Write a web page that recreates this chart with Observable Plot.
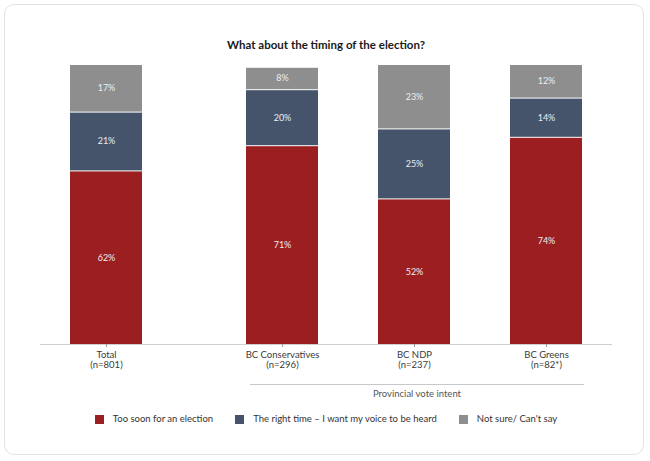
<!DOCTYPE html>
<html>
<head>
<meta charset="utf-8">
<script src="https://cdn.jsdelivr.net/npm/d3@7"></script>
<script src="https://cdn.jsdelivr.net/npm/@observablehq/plot@0.6"></script>
<style>
  html, body { margin: 0; padding: 0; background: #fff; }
  body { width: 650px; height: 461px; position: relative; overflow: hidden; font-family: Lato, "Open Sans", sans-serif; }
  #frame { position: absolute; left: 4px; top: 4px; width: 640px; height: 451px; border: 1px solid #e3e3e3; border-radius: 10px; box-sizing: border-box; }
  #title { position: absolute; left: 0; top: 37px; width: 652px; text-align: center; font-weight: 700; font-size: 11.5px; line-height: 15px; color: #1a1a1a; }
  #chart { position: absolute; left: 0; top: 0; }
  #group { position: absolute; border-top: 1px solid #c8c8c8; }
  #groupLabel { position: absolute; text-align: center; font-size: 9.5px; line-height: 12px; color: #555; }
  #legend { position: absolute; left: 0; top: 413px; width: 652px; display: flex; justify-content: center; font-size: 9.5px; line-height: 12px; color: #333; }
  .item { display: flex; align-items: center; margin: 0 11px; }
  .sw { width: 9px; height: 9px; margin-right: 9px; }
</style>
</head>
<body>
<div id="frame"></div>
<div id="title">What about the timing of the election?</div>
<div id="chart"></div>
<div id="group"></div>
<div id="groupLabel">Provincial vote intent</div>
<div id="legend"></div>
<script>
const categories = ["Total", "BC Conservatives", "BC NDP", "BC Greens"];
const sampleSizes = ["n=801", "n=296", "n=237", "n=82*"];
const seriesNames = ["Too soon for an election", "The right time – I want my voice to be heard", "Not sure/ Can't say"];
const tooSoon = [62, 71, 52, 74];
const rightTime = [21, 20, 25, 14];
const notSure = [17, 8, 23, 12];
const seriesColors = ["#9b1f21", "#45546b", "#8e8e8e"];
const groupName = "Provincial vote intent";
const groupMembers = ["BC Conservatives", "BC NDP", "BC Greens"];

const seriesValues = [tooSoon, rightTime, notSure];
const rows = [];
seriesNames.forEach((s, si) => {
  categories.forEach((c, ci) => rows.push({cat: c, series: s, value: seriesValues[si][ci]}));
});

// band slots: spacer slots widen the gap between Total and the party group
const slots = [];
categories.forEach((c, i) => {
  if (i > 0) {
    const n = i === 1 ? 3 : 2;
    for (let k = 0; k < n; k++) slots.push(`_gap${i}_${k}`);
  }
  slots.push(c);
});
const nLabel = new Map(categories.map((c, i) => [c, `${c}\n(${sampleSizes[i]})`]));

const chart = Plot.plot({
  width: 650,
  height: 400,
  marginTop: 64,
  marginBottom: 56,
  marginLeft: 40,
  marginRight: 38,
  style: {fontFamily: "Lato, 'Open Sans', sans-serif", background: "transparent"},
  x: {type: "band", domain: slots, paddingInner: 0, paddingOuter: 0.91, align: 0.5, label: null},
  y: {domain: [0, 100], axis: null, label: null},
  color: {domain: seriesNames, range: seriesColors},
  marks: [
    Plot.barY(rows, Plot.stackY({x: "cat", y: "value", fill: "series", order: seriesNames, insetLeft: -14, insetRight: -14, insetTop: 1})),
    Plot.text(rows, Plot.stackY({x: "cat", y: "value", z: "series", order: seriesNames, text: d => d.value + "%", fill: "#eceef2", fontSize: 9})),
    Plot.ruleY([0], {stroke: "#cfcfcf"}),
    Plot.axisX(categories, {label: null, tickSize: 3, tickPadding: 3, stroke: "#999", fill: "#3a3a3a", fontSize: 9.5, lineHeight: 1.1, tickFormat: c => nLabel.get(c)})
  ]
});
document.getElementById("chart").appendChild(chart);

// group bracket placed from the chart's x scale
const xs = chart.scale("x");
const bw = xs.bandwidth;
const gLeft = xs.apply(groupMembers[0]) + bw / 2 - 32;
const gRight = xs.apply(groupMembers[groupMembers.length - 1]) + bw / 2 + 38;
const g = document.getElementById("group");
g.style.left = gLeft + "px"; g.style.width = (gRight - gLeft) + "px"; g.style.top = "384px";
const gl = document.getElementById("groupLabel");
gl.textContent = groupName;
gl.style.left = gLeft + "px"; gl.style.width = (gRight - gLeft) + "px"; gl.style.top = "388px";

const legend = document.getElementById("legend");
seriesNames.forEach((s, i) => {
  const item = document.createElement("div");
  item.className = "item";
  const sw = document.createElement("div");
  sw.className = "sw";
  sw.style.background = seriesColors[i];
  const t = document.createElement("span");
  t.textContent = s;
  item.appendChild(sw); item.appendChild(t);
  legend.appendChild(item);
});
</script>
</body>
</html>
